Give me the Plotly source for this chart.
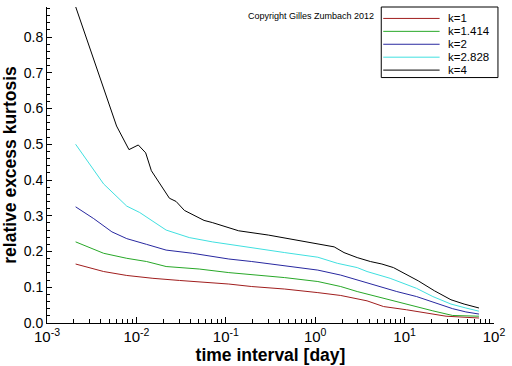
import plotly.graph_objects as go

# ---- data ----
series_names = ["k=1", "k=1.414", "k=2", "k=2.828", "k=4"]
series_colors = ["#a01e1e", "#28a828", "#2828a0", "#40e0e0", "#000000"]

x_k1 = [0.00209, 0.0043, 0.0078, 0.0153, 0.0303, 0.108, 0.195, 0.456, 1.07, 1.93, 3.80, 5.82, 10.5, 20.7, 29.1, 67.9]
y_k1 = [0.165, 0.144, 0.133, 0.125, 0.119, 0.109, 0.102, 0.095, 0.085, 0.077, 0.062, 0.046, 0.037, 0.025, 0.019, 0.014]

x_k1414 = [0.00209, 0.0043, 0.0078, 0.013, 0.0215, 0.0504, 0.108, 0.195, 0.456, 1.07, 1.93, 2.95, 4.9, 8.17, 13.6, 20.7, 34.5, 67.9]
y_k1414 = [0.227, 0.195, 0.181, 0.172, 0.158, 0.151, 0.141, 0.136, 0.127, 0.116, 0.102, 0.088, 0.074, 0.058, 0.046, 0.034, 0.021, 0.019]

x_k2 = [0.00209, 0.00333, 0.00532, 0.0078, 0.013, 0.0215, 0.0425, 0.108, 0.195, 0.456, 1.07, 1.93, 2.95, 4.9, 8.17, 13.6, 20.7, 34.5, 48.4, 67.9]
y_k2 = [0.325, 0.292, 0.255, 0.236, 0.220, 0.204, 0.195, 0.179, 0.172, 0.160, 0.148, 0.134, 0.120, 0.105, 0.088, 0.074, 0.058, 0.040, 0.031, 0.025]

x_k2828 = [0.00209, 0.0043, 0.0078, 0.0109, 0.0215, 0.039, 0.0706, 0.108, 0.179, 0.456, 1.07, 1.77, 2.95, 3.80, 6.89, 13.6, 20.7, 33.0, 48.4, 67.9]
y_k2828 = [0.50, 0.389, 0.327, 0.309, 0.260, 0.239, 0.227, 0.220, 0.211, 0.197, 0.184, 0.167, 0.155, 0.144, 0.125, 0.097, 0.074, 0.053, 0.042, 0.033]

x_k4 = [0.00209, 0.0043, 0.0060, 0.00826, 0.0105, 0.0127, 0.0147, 0.0234, 0.0278, 0.0344, 0.0571, 0.0706, 0.103, 0.139, 0.299, 0.497, 0.98, 1.63, 2.10, 2.95, 4.14, 5.57, 7.50, 14.2, 21.6, 33.0, 46.3, 67.9]
y_k4 = [0.885, 0.658, 0.551, 0.485, 0.498, 0.476, 0.426, 0.349, 0.340, 0.315, 0.287, 0.281, 0.267, 0.258, 0.246, 0.236, 0.224, 0.213, 0.197, 0.183, 0.172, 0.165, 0.155, 0.118, 0.090, 0.065, 0.053, 0.042]

y_ticks = [0.0, 0.1, 0.2, 0.3, 0.4, 0.5, 0.6, 0.7, 0.8]
y_tick_text = ["0.0", "0.1", "0.2", "0.3", "0.4", "0.5", "0.6", "0.7", "0.8"]
x_ticks = [1e-3, 1e-2, 1e-1, 1e0, 1e1, 1e2]
x_tick_text = ["10<sup>-3</sup>", "10<sup>-2</sup>", "10<sup>-1</sup>", "10<sup>0</sup>", "10<sup>1</sup>", "10<sup>2</sup>"]
x_minor_ticks = [m * d for d in [1e-3, 1e-2, 1e-1, 1e0, 1e1] for m in range(2, 10)]

xs = [x_k1, x_k1414, x_k2, x_k2828, x_k4]
ys = [y_k1, y_k1414, y_k2, y_k2828, y_k4]

FONT = "Liberation Sans, Arial, sans-serif"

fig = go.Figure()
for name, col, x, y in zip(series_names, series_colors, xs, ys):
    fig.add_trace(go.Scatter(x=x, y=y, mode="lines", name=name,
                             line=dict(color=col, width=1), showlegend=False))

W, H = 512, 366
ml, mr, mt, mb = 46, 14, 7, 41
pw, ph = W - ml - mr, H - mt - mb

def px_to_paper(px, py):
    return (px - ml) / pw, 1 - (py - mt) / ph

shapes = []
annotations = []
# custom legend box
x0, y0 = px_to_paper(384, 7)
x1, y1 = px_to_paper(502, 78)
shapes.append(dict(type="rect", xref="paper", yref="paper", x0=x0, y0=y1, x1=x1, y1=y0,
                   line=dict(color="black", width=1), fillcolor="white", layer="above"))
row_y = [18.5, 31.5, 44.5, 57.5, 70.5]
for name, col, ry in zip(series_names, series_colors, row_y):
    lx0, ly = px_to_paper(386, ry)
    lx1, _ = px_to_paper(443, ry)
    shapes.append(dict(type="line", xref="paper", yref="paper", x0=lx0, x1=lx1, y0=ly, y1=ly,
                       line=dict(color=col, width=1), layer="above"))
    tx, _ = px_to_paper(450, ry)
    annotations.append(dict(text=name, xref="paper", yref="paper", x=tx, y=ly,
                            xanchor="left", yanchor="middle", showarrow=False,
                            borderpad=0,
                            font=dict(family=FONT, size=11.5, color="black")))
cx, cy = px_to_paper(379, 16)
annotations.append(dict(text="Copyright Gilles Zumbach 2012", xref="paper", yref="paper",
                        x=cx, y=cy, xanchor="right", yanchor="middle", showarrow=False,
                        font=dict(family=FONT, size=9, color="black")))

fig.update_layout(
    width=W, height=H,
    margin=dict(l=ml, r=mr, t=mt, b=mb, pad=0),
    plot_bgcolor="white", paper_bgcolor="white",
    shapes=shapes, annotations=annotations,
    font=dict(family=FONT, size=14, color="black"),
)
fig.update_xaxes(
    type="log", range=[-3, 2],
    showline=True, linecolor="black", linewidth=1, mirror=False,
    showgrid=False, zeroline=False,
    ticks="inside", ticklen=6, tickcolor="black",
    tickvals=x_ticks, ticktext=x_tick_text,
    tickfont=dict(family=FONT, size=15),
    minor=dict(ticks="inside", ticklen=4, tickcolor="black", showgrid=False,
               tickmode="array", tickvals=x_minor_ticks),
    title=dict(text="<b>time interval [day]</b>", font=dict(family=FONT, size=17.5), standoff=2),
)
fig.update_yaxes(
    range=[0, 0.884],
    showline=True, linecolor="black", linewidth=1, mirror=False,
    showgrid=False, zeroline=False,
    ticks="inside", ticklen=5, tickcolor="black",
    tickvals=y_ticks, ticktext=y_tick_text,
    tickfont=dict(family=FONT, size=14),
    minor=dict(ticks="inside", ticklen=3, tickcolor="black", dtick=0.02, showgrid=False),
    title=dict(text="<b>relative excess kurtosis</b>", font=dict(family=FONT, size=17.5), standoff=4),
)

fig.write_html("out.html", config={"displayModeBar": False},
               post_script="document.body.style.margin='0px';")
